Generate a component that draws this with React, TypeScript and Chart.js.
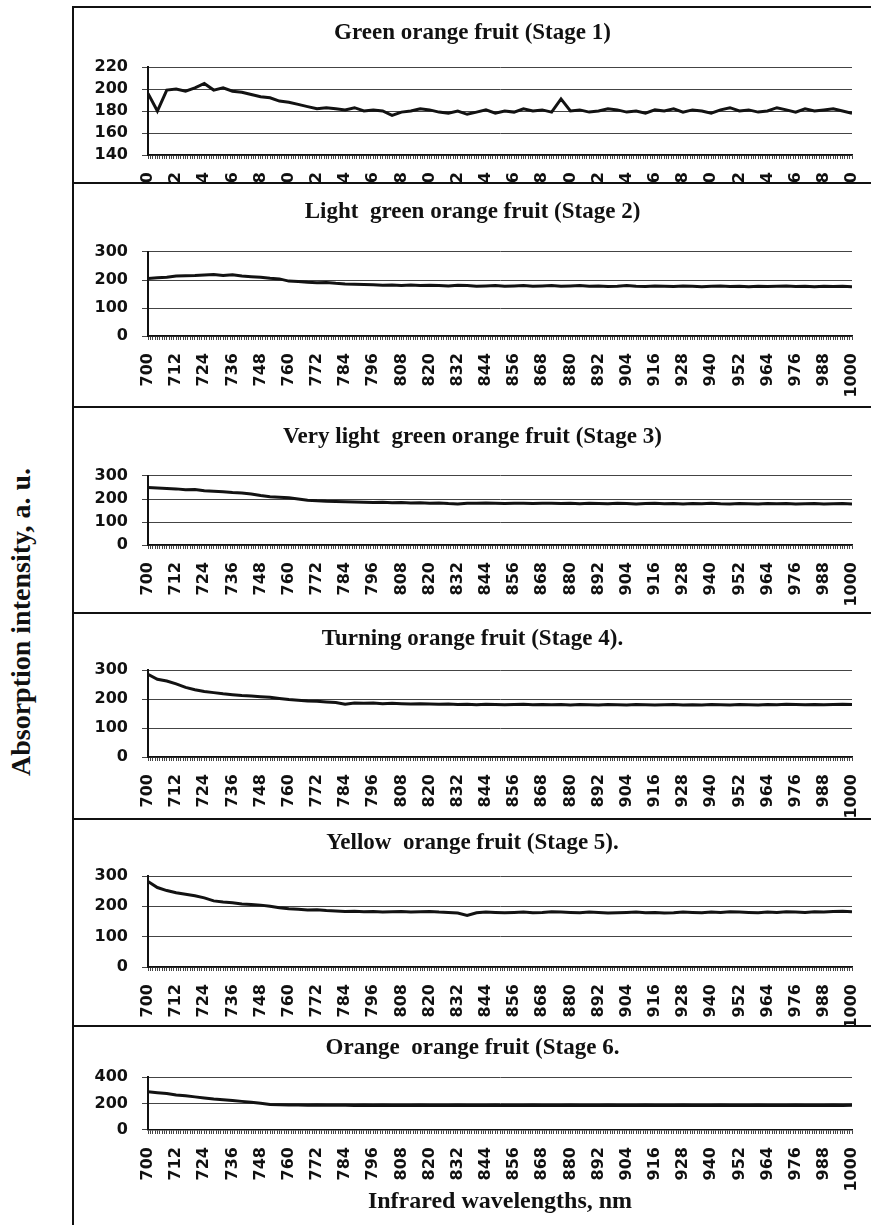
import React, { useEffect, useRef } from "react";
import { Chart, registerables } from "chart.js";

Chart.register(...registerables);

// ---------- data ----------
const wavelengths = [
  700, 704, 708, 712, 716, 720, 724, 728, 732, 736, 740, 744, 748, 752, 756, 760,
  764, 768, 772, 776, 780, 784, 788, 792, 796, 800, 804, 808, 812, 816, 820, 824,
  828, 832, 836, 840, 844, 848, 852, 856, 860, 864, 868, 872, 876, 880, 884, 888,
  892, 896, 900, 904, 908, 912, 916, 920, 924, 928, 932, 936, 940, 944, 948, 952,
  956, 960, 964, 968, 972, 976, 980, 984, 988, 992, 996, 1000,
];

const stage1 = [
  196, 180, 199, 200, 198, 201, 205, 199, 201, 198, 197, 195, 193, 192, 189, 188,
  186, 184, 182, 183, 182, 181, 183, 180, 181, 180, 176, 179, 180, 182, 181, 179,
  178, 180, 177, 179, 181, 178, 180, 179, 182, 180, 181, 179, 191, 180, 181, 179,
  180, 182, 181, 179, 180, 178, 181, 180, 182, 179, 181, 180, 178, 181, 183, 180,
  181, 179, 180, 183, 181, 179, 182, 180, 181, 182, 180, 178,
];

const stage2 = [
  205, 208, 210, 214, 215, 216, 218, 220, 216, 219, 214, 212, 210, 206, 204, 196,
  195, 192, 190, 191, 188, 186, 185, 184, 183, 181, 182, 180, 182, 180, 181, 180,
  179, 181, 180, 178, 179, 180, 178, 179, 180, 178, 179, 180, 178, 179, 180, 178,
  179, 177, 178, 180, 178, 177, 179, 178, 177, 179, 178, 176, 178, 179, 177, 178,
  176, 178, 177, 178, 179, 177, 178, 176, 178, 177, 178, 176,
];

const stage3 = [
  250, 248, 246, 244, 240, 241, 236, 234, 232, 228, 226, 222, 215, 210, 208, 205,
  200, 195, 192, 190, 189, 188, 187, 186, 185, 186, 184, 185, 183, 184, 182, 183,
  180, 178, 182, 181, 183, 182, 180, 181, 182, 180, 181, 182, 180, 181, 179, 181,
  180, 179, 181, 180, 178, 180, 181, 179, 180, 178, 180, 179, 181, 179, 178, 180,
  179, 178, 180, 179, 180, 178, 179, 180, 178, 179, 180, 178,
];

const stage4 = [
  285, 268, 262, 252, 240, 232, 226, 222, 218, 215, 212, 210, 208, 206, 202, 198,
  196, 193, 192, 190, 188, 182, 186, 185, 186, 184, 185, 184, 183, 184, 183, 182,
  183, 181, 182, 180, 182, 181, 180, 181, 182, 180, 181, 180, 181, 179, 181, 180,
  179, 181, 180, 179, 181, 180, 179, 180, 181, 179, 180, 179, 181, 180, 179, 181,
  180, 179, 181, 180, 182, 181, 180, 181, 180, 181, 182, 181,
];

const stage5 = [
  282, 262, 252, 245, 240, 235, 228, 218, 214, 212, 208, 206, 204, 200, 195, 192,
  190, 188, 189, 186, 185, 183, 184, 182, 183, 181, 182, 183, 181, 182, 183, 181,
  180, 178, 170, 179, 181, 180, 179, 180, 181, 179, 180, 182, 181, 180, 179, 181,
  180, 178, 179, 180, 181, 179, 180, 178, 179, 181, 180, 179, 181, 180, 182, 181,
  180, 179, 181, 180, 182, 181, 180, 182, 181, 183, 184, 182,
];

const stage6 = [
  288, 282, 276, 265, 258, 250, 242, 234, 228, 222, 216, 210, 202, 192, 190, 189,
  188, 187, 188, 186, 187, 186, 185, 186, 185, 186, 185, 184, 185, 186, 185, 184,
  185, 186, 185, 184, 185, 186, 185, 184, 185, 186, 185, 184, 185, 186, 185, 184,
  185, 186, 185, 184, 185, 186, 185, 184, 185, 186, 185, 184, 185, 186, 185, 184,
  185, 186, 185, 184, 185, 186, 185, 184, 185, 186, 185, 186,
];

const seriesList = [stage1, stage2, stage3, stage4, stage5, stage6];

const panelTitles = [
  "Green orange fruit (Stage 1)",
  "Light  green orange fruit (Stage 2)",
  "Very light  green orange fruit (Stage 3)",
  "Turning orange fruit (Stage 4).",
  "Yellow  orange fruit (Stage 5).",
  "Orange  orange fruit (Stage 6.",
];

const yMins = [140, 0, 0, 0, 0, 0];
const yMaxs = [220, 300, 300, 300, 300, 400];
const ySteps = [20, 100, 100, 100, 100, 200];

const xMin = 700;
const xMax = 1000;
const xLabelStep = 12;

const yAxisTitle = "Absorption intensity, a. u.";
const xAxisTitle = "Infrared wavelengths, nm";

// ---------- layout (pixels) ----------
const FRAME_LEFT = 72;
const CANVAS_LEFT = 74;
const CANVAS_W = 797;
const separators = [6, 182, 406, 612, 818, 1025, 1225];
const titleYs = [33, 212, 437, 639, 843, 1048];
const plotTops = [67, 252, 476, 670, 876, 1077];
const plotBottoms = [155, 336, 545, 757, 967, 1130];
const PLOT_LEFT = 148;
const PLOT_RIGHT = 852;

const TITLE_SIZE = 23;
const SIDE_PAD = CANVAS_LEFT + CANVAS_W - PLOT_RIGHT; // keeps the title centred on the frame
const TICK_FONT = { family: "'DejaVu Sans', sans-serif", weight: "bold" as const, size: 16 };

function Panel({ idx }: { idx: number }) {
  const ref = useRef<HTMLCanvasElement>(null);
  const top = separators[idx] + 2;
  const visibleH = separators[idx + 1] - top;
  const canvasH = idx === 0 ? plotBottoms[idx] - top + 50 : visibleH;

  useEffect(() => {
    if (!ref.current) return;
    const series = seriesList[idx];
    const titleBoxH = TITLE_SIZE * 1.2;
    const padTop = titleYs[idx] - top - titleBoxH / 2;
    const titlePadBottom = plotTops[idx] - (titleYs[idx] + titleBoxH / 2);
    const xAxisH = top + canvasH - plotBottoms[idx];
    const yAxisW = PLOT_LEFT - CANVAS_LEFT - SIDE_PAD;

    const chart = new Chart(ref.current, {
      type: "line",
      data: {
        datasets: [
          {
            data: wavelengths.map((w, i) => ({ x: w, y: series[i] })),
            borderColor: "#121212",
            borderWidth: 3,
            pointRadius: 0,
            tension: 0,
            fill: false,
          },
        ],
      },
      options: {
        responsive: false,
        animation: false,
        events: [],
        layout: { padding: { top: padTop, left: SIDE_PAD, right: SIDE_PAD, bottom: 0 } },
        plugins: {
          legend: { display: false },
          tooltip: { enabled: false },
          title: {
            display: true,
            text: panelTitles[idx],
            color: "#111",
            font: { family: "'Liberation Serif', serif", weight: "bold", size: TITLE_SIZE },
            padding: { top: 0, bottom: titlePadBottom },
          },
        },
        scales: {
          x: {
            type: "linear",
            min: xMin,
            max: xMax,
            ticks: {
              stepSize: 1,
              autoSkip: false,
              minRotation: 90,
              maxRotation: 90,
              padding: 13,
              color: "#111",
              font: TICK_FONT,
              callback: (v: any) => {
                const n = Math.round(Number(v));
                return (n - xMin) % xLabelStep === 0 ? String(n) : "";
              },
            },
            grid: { drawOnChartArea: false, drawTicks: true, tickLength: 4, color: "#444", lineWidth: 1 },
            border: { display: true, color: "#111", width: 1.5 },
            afterFit: (s: any) => {
              s.height = xAxisH;
              s.paddingLeft = 0;
              s.paddingRight = 0;
            },
          },
          y: {
            min: yMins[idx],
            max: yMaxs[idx],
            ticks: { stepSize: ySteps[idx], autoSkip: false, padding: 14, color: "#111", font: TICK_FONT },
            grid: { color: "#444", lineWidth: 1, tickLength: 6 },
            border: { display: true, color: "#111", width: 2 },
            afterFit: (s: any) => {
              s.width = yAxisW;
              s.paddingTop = 0;
              s.paddingBottom = 0;
            },
          },
        },
      },
    } as any);
    return () => chart.destroy();
  }, []);

  return (
    <div
      style={{
        position: "absolute",
        left: CANVAS_LEFT,
        top,
        width: CANVAS_W,
        height: visibleH,
        overflow: "hidden",
      }}
    >
      <canvas ref={ref} width={CANVAS_W} height={canvasH} style={{ display: "block" }} />
    </div>
  );
}

export default function App() {
  return (
    <div
      style={{
        position: "absolute",
        left: 0,
        top: 0,
        width: 871,
        height: 1225,
        overflow: "hidden",
        background: "#fff",
      }}
    >
      {separators.slice(0, 6).map((s, i) => (
        <div
          key={"sep" + i}
          style={{
            position: "absolute",
            left: FRAME_LEFT,
            top: s,
            width: 871 - FRAME_LEFT,
            height: 0,
            borderTop: "2px solid #111",
          }}
        />
      ))}
      <div
        style={{
          position: "absolute",
          left: FRAME_LEFT,
          top: separators[0],
          width: 0,
          height: 1225 - separators[0],
          borderLeft: "2px solid #111",
        }}
      />
      {seriesList.map((_, i) => (
        <Panel key={i} idx={i} />
      ))}
      <div
        style={{
          position: "absolute",
          left: 21,
          top: 622,
          transform: "translate(-50%, -50%) rotate(-90deg)",
          whiteSpace: "nowrap",
          fontFamily: "'Liberation Serif', serif",
          fontWeight: "bold",
          fontSize: 28,
          color: "#111",
        }}
      >
        {yAxisTitle}
      </div>
      <div
        style={{
          position: "absolute",
          left: (PLOT_LEFT + PLOT_RIGHT) / 2,
          top: 1200,
          transform: "translate(-50%, -50%)",
          whiteSpace: "nowrap",
          fontFamily: "'Liberation Serif', serif",
          fontWeight: "bold",
          fontSize: 24,
          color: "#111",
        }}
      >
        {xAxisTitle}
      </div>
    </div>
  );
}
